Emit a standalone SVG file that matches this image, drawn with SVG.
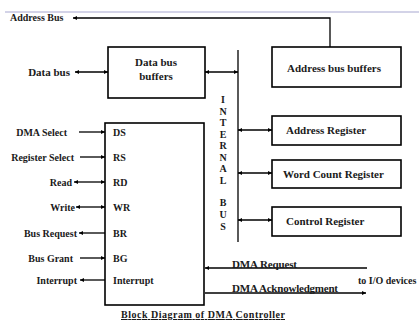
<svg xmlns="http://www.w3.org/2000/svg" width="419" height="323" viewBox="0 0 419 323">
<style>
text{font-family:"Liberation Serif","Times New Roman",serif;font-weight:bold;font-size:10px;fill:#1a1a1a}
.big{font-size:11px}
.box{fill:#fff;stroke:#000;stroke-width:1.6}
.ln{stroke:#000;stroke-width:1.3;fill:none}
.e{text-anchor:end}
.m{text-anchor:middle}
</style>
<defs>
<marker id="ah" viewBox="0 0 10 10" refX="10" refY="5" markerWidth="5" markerHeight="4" markerUnits="userSpaceOnUse" orient="auto-start-reverse">
<path d="M0,0 L10,5 L0,10 z" fill="#000"/>
</marker>
</defs>
<rect width="419" height="323" fill="#fff"/>
<line x1="5" y1="12" x2="419" y2="12" stroke="#a7a7d0" stroke-width="1"/>
<g id="connectors">
<polyline class="ln" points="330,47 330,18 73,18" marker-end="url(#ah)"/>
<line class="ln" x1="75" y1="72" x2="108" y2="72" marker-start="url(#ah)" marker-end="url(#ah)"/>
<line class="ln" x1="205" y1="72" x2="238" y2="72" marker-start="url(#ah)" marker-end="url(#ah)"/>
<line class="ln" x1="238" y1="50" x2="238" y2="242"/>
<line class="ln" x1="238" y1="130" x2="272" y2="130" marker-start="url(#ah)" marker-end="url(#ah)"/>
<line class="ln" x1="238" y1="173" x2="272" y2="173" marker-start="url(#ah)" marker-end="url(#ah)"/>
<line class="ln" x1="238" y1="220" x2="272" y2="220" marker-start="url(#ah)" marker-end="url(#ah)"/>
<line class="ln" x1="79" y1="132" x2="105" y2="132" marker-end="url(#ah)"/>
<line class="ln" x1="80" y1="157" x2="105" y2="157" marker-end="url(#ah)"/>
<line class="ln" x1="74" y1="182" x2="105" y2="182" marker-start="url(#ah)" marker-end="url(#ah)"/>
<line class="ln" x1="76" y1="207" x2="105" y2="207" marker-start="url(#ah)" marker-end="url(#ah)"/>
<line class="ln" x1="105" y1="233" x2="79" y2="233" marker-end="url(#ah)"/>
<line class="ln" x1="80" y1="258" x2="105" y2="258" marker-end="url(#ah)"/>
<line class="ln" x1="105" y1="280" x2="80" y2="280" marker-end="url(#ah)"/>
<line class="ln" x1="367" y1="268" x2="205" y2="268" marker-end="url(#ah)"/>
<line class="ln" x1="205" y1="293" x2="366" y2="293" marker-end="url(#ah)"/>
</g>
<text x="10" y="21" font-size="11.2">Address Bus</text>
<text class="e big" x="70" y="75.5">Data bus</text>
<g id="data-bus-buffers">
<rect class="box" x="108" y="47" width="97" height="51"/>
<text class="m big" x="156" y="66">Data bus</text>
<text class="m big" x="156" y="80">buffers</text>
</g>
<g id="address-bus-buffers">
<rect class="box" x="272" y="47" width="129" height="40"/>
<text class="m big" x="334" y="72">Address bus  buffers</text>
</g>
<g id="internal-bus">
<text class="m" x="223" y="103">I</text>
<text class="m" x="223" y="114.5">N</text>
<text class="m" x="223" y="126">T</text>
<text class="m" x="223" y="137.5">E</text>
<text class="m" x="223" y="149">R</text>
<text class="m" x="223" y="160.5">N</text>
<text class="m" x="223" y="172">A</text>
<text class="m" x="223" y="184">L</text>
<text class="m" x="223" y="206">B</text>
<text class="m" x="223" y="218">U</text>
<text class="m" x="223" y="230">S</text>
</g>
<g id="address-register">
<rect class="box" x="272" y="116" width="129" height="29"/>
<text class="big" x="286" y="133.5">Address Register</text>
</g>
<g id="word-count-register">
<rect class="box" x="272" y="160" width="129" height="28"/>
<text class="big" x="283" y="177.5">Word Count Register</text>
</g>
<g id="control-register">
<rect class="box" x="272" y="207" width="129" height="29"/>
<text class="big" x="286" y="224.5">Control Register</text>
</g>
<g id="dma-controller">
<rect class="box" x="105" y="123" width="99" height="182"/>
<text x="113" y="135.5">DS</text>
<text x="113" y="160.5">RS</text>
<text x="113" y="185.5">RD</text>
<text x="113" y="210.5">WR</text>
<text x="113" y="236.5">BR</text>
<text x="113" y="261.5">BG</text>
<text x="113" y="283.5">Interrupt</text>
</g>
<text class="e" x="67" y="135.5">DMA Select</text>
<text class="e" x="74" y="160.5">Register Select</text>
<text class="e" x="72" y="185.5">Read</text>
<text class="e" x="75" y="210.5">Write</text>
<text class="e" x="77" y="236.5">Bus Request</text>
<text class="e" x="73" y="261.5">Bus Grant</text>
<text class="e" x="77" y="283.5">Interrupt</text>
<text class="big" x="232" y="268" textLength="65">DMA Request</text>
<text class="big" x="232" y="292" textLength="106">DMA Acknowledgment</text>
<text x="358" y="284" font-size="10.3">to I/O devices</text>
<text x="121" y="318" font-size="11.5" text-decoration="underline" textLength="164">Block Diagram of DMA Controller</text>
</svg>
